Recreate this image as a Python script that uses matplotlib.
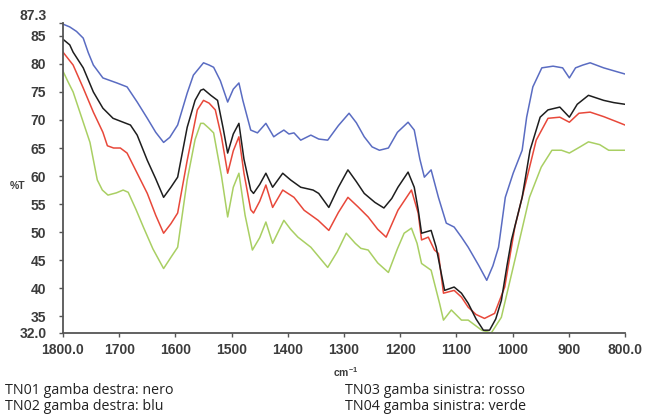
import matplotlib
matplotlib.use("Agg")
import matplotlib.pyplot as plt

# ---- data (wavenumber cm-1, %T) ----
wn_blue = [1800,1788,1776,1764,1755,1746,1729,1704,1686,1668,1650,1635,1621,1610,1596,1579,1568,1550,1540,1532,1520,1507,1497,1487,1480,1466,1454,1439,1425,1418,1407,1398,1389,1377,1359,1345,1329,1310,1291,1278,1264,1250,1237,1221,1205,1186,1175,1165,1157,1145,1132,1118,1104,1091,1079,1060,1046,1035,1025,1013,999,983,975,964,948,928,911,899,888,875,862,838,814,800]
val_blue = [87.1,86.6,85.8,84.6,82.0,79.8,77.5,76.6,75.9,73.2,70.3,67.8,66.0,66.9,69.1,74.8,78.0,80.2,79.8,79.4,77.0,73.2,75.5,76.6,73.5,68.2,67.7,69.4,67.0,67.5,68.2,67.5,67.7,66.4,67.3,66.6,66.4,69.0,71.2,69.5,67.0,65.2,64.6,65.0,67.8,69.6,68.2,63.0,59.8,61.1,56.2,51.6,50.9,49.1,47.3,44.0,41.4,44.0,47.3,56.2,60.5,64.6,70.5,75.9,79.3,79.6,79.3,77.5,79.3,79.8,80.2,79.3,78.6,78.2]

wn_black = [1800,1788,1782,1764,1746,1729,1711,1693,1680,1668,1650,1635,1621,1608,1596,1579,1565,1555,1550,1537,1525,1515,1507,1497,1487,1478,1466,1461,1450,1439,1427,1409,1395,1377,1355,1345,1327,1310,1293,1278,1264,1245,1229,1215,1204,1186,1175,1168,1162,1145,1136,1121,1104,1091,1079,1065,1052,1041,1030,1020,1010,1002,983,969,951,937,916,899,885,865,838,820,800]
val_black = [84.4,83.4,82.1,79.3,75.0,72.1,70.3,69.6,69.1,67.3,62.8,59.5,56.2,58.0,59.8,68.7,73.5,75.3,75.5,74.4,73.5,68.5,64.1,67.5,69.4,63.0,57.5,56.9,58.5,60.5,58.0,60.5,59.3,58.0,57.5,56.9,54.4,58.0,61.1,59.0,56.9,55.3,54.3,56.0,58.0,60.7,58.0,54.0,49.8,50.3,47.3,39.6,40.2,39.1,37.3,34.5,32.5,32.5,34.5,37.8,44.0,48.6,56.2,64.6,70.5,71.8,72.3,70.5,72.8,74.4,73.5,73.1,72.8]

wn_red = [1800,1782,1764,1746,1729,1721,1710,1698,1686,1668,1650,1635,1621,1608,1596,1579,1561,1550,1540,1529,1518,1507,1497,1487,1478,1466,1461,1450,1439,1427,1409,1389,1371,1346,1327,1310,1293,1275,1257,1240,1225,1204,1180,1168,1162,1150,1139,1132,1123,1104,1091,1079,1065,1050,1032,1014,996,983,970,958,937,916,899,882,862,838,815,800]
val_red = [82.1,79.8,75.7,71.4,67.8,65.4,65.0,65.0,64.1,60.5,56.9,53.0,49.8,51.5,53.4,62.8,71.8,73.5,73.0,71.8,67.0,60.5,64.5,67.0,60.5,54.0,53.4,55.5,58.4,54.4,57.5,56.2,53.9,52.1,50.3,53.5,56.2,54.5,52.7,50.5,49.1,53.9,57.5,53.4,48.6,49.1,46.8,46.2,39.1,39.6,38.4,36.6,35.3,34.6,35.5,40.2,50.9,56.2,61.5,66.4,70.3,70.5,69.6,71.2,71.4,70.6,69.7,69.1]

wn_green = [1800,1791,1782,1764,1752,1739,1730,1720,1705,1693,1684,1670,1657,1640,1621,1608,1596,1579,1565,1555,1550,1540,1532,1518,1507,1497,1487,1476,1463,1450,1439,1427,1407,1395,1382,1359,1329,1312,1296,1280,1270,1257,1240,1221,1205,1193,1180,1170,1162,1145,1130,1123,1109,1091,1079,1055,1038,1020,996,970,949,930,913,899,880,865,845,829,800]
val_green = [78.7,76.8,75.0,69.6,66.0,59.3,57.5,56.6,57.0,57.5,57.1,54.0,50.9,47.0,43.5,45.5,47.3,59.3,66.5,69.4,69.4,68.5,67.7,60.0,52.7,58.0,60.5,53.0,46.8,49.0,51.8,48.0,52.1,50.5,49.1,47.3,43.7,46.5,49.8,48.0,47.1,46.8,44.5,42.8,47.0,49.8,50.7,48.0,44.4,43.2,37.3,34.3,36.1,34.3,34.3,32.5,32.0,34.8,45.0,56.2,61.6,64.6,64.6,64.1,65.2,66.1,65.6,64.6,64.6]

x_ticks = [1800, 1700, 1600, 1500, 1400, 1300, 1200, 1100, 1000, 900, 800]
x_labels = ["1800.0", "1700", "1600", "1500", "1400", "1300", "1200", "1100", "1000", "900", "800.0"]
y_ticks = [32.0, 35, 40, 45, 50, 55, 60, 65, 70, 75, 80, 85, 87.3]
y_labels = ["32.0", "35", "40", "45", "50", "55", "60", "65", "70", "75", "80", "85", "87.3"]
legend_lines = ["TN01 gamba destra: nero", "TN02 gamba destra: blu",
                "TN03 gamba sinistra: rosso", "TN04 gamba sinistra: verde"]

W, H = 649, 418
fig = plt.figure(figsize=(W / 100, H / 100), dpi=100)
ax = fig.add_axes([63 / W, (H - 333) / H, (625 - 63) / W, (333 - 23) / H])

ax.plot(wn_green, val_green, color="#a9cf63", lw=1.1)
ax.plot(wn_red, val_red, color="#e8483a", lw=1.1)
ax.plot(wn_blue, val_blue, color="#5a6cc2", lw=1.1)
ax.plot(wn_black, val_black, color="#1e1e1e", lw=1.1)

ax.set_xlim(1800, 800)
ax.set_ylim(32.0, 87.3)
ax.set_xticks(x_ticks)
ax.set_xticklabels(x_labels)
ax.set_yticks(y_ticks)
ax.set_yticklabels(y_labels)

for s in ["top", "right"]:
    ax.spines[s].set_visible(False)
for s in ["left", "bottom"]:
    ax.spines[s].set_color("#555555")
    ax.spines[s].set_linewidth(1.3)

ax.tick_params(axis="both", colors="#555555", length=3, width=1.0,
               labelcolor="#3c3c3c", labelsize=10)
ax.tick_params(axis="x", pad=4)
ax.tick_params(axis="y", pad=9)
for lab in ax.get_xticklabels() + ax.get_yticklabels():
    lab.set_fontweight("bold")
    lab.set_family("Liberation Sans")
ylabs = ax.get_yticklabels()
ylabs[-1].set_va("bottom")

fig.text(10 / W, 1 - 186 / H, "%T", fontsize=7.5, fontweight="bold",
         color="#3c3c3c", family="Liberation Sans", ha="left", va="center")
fig.text(333 / W, 1 - 372 / H, "cm$^{\\mathregular{-1}}$", fontsize=7.5, fontweight="bold",
         color="#3c3c3c", family="Liberation Sans", ha="left", va="center")

lx = [5, 5, 345, 345]
ly = [390, 407, 390, 407]
for t, x, y in zip(legend_lines, lx, ly):
    fig.text(x / W, 1 - y / H, t, fontsize=10.3, color="#222222",
             family="Open Sans", ha="left", va="center")

fig.savefig("out.png", dpi=100)
